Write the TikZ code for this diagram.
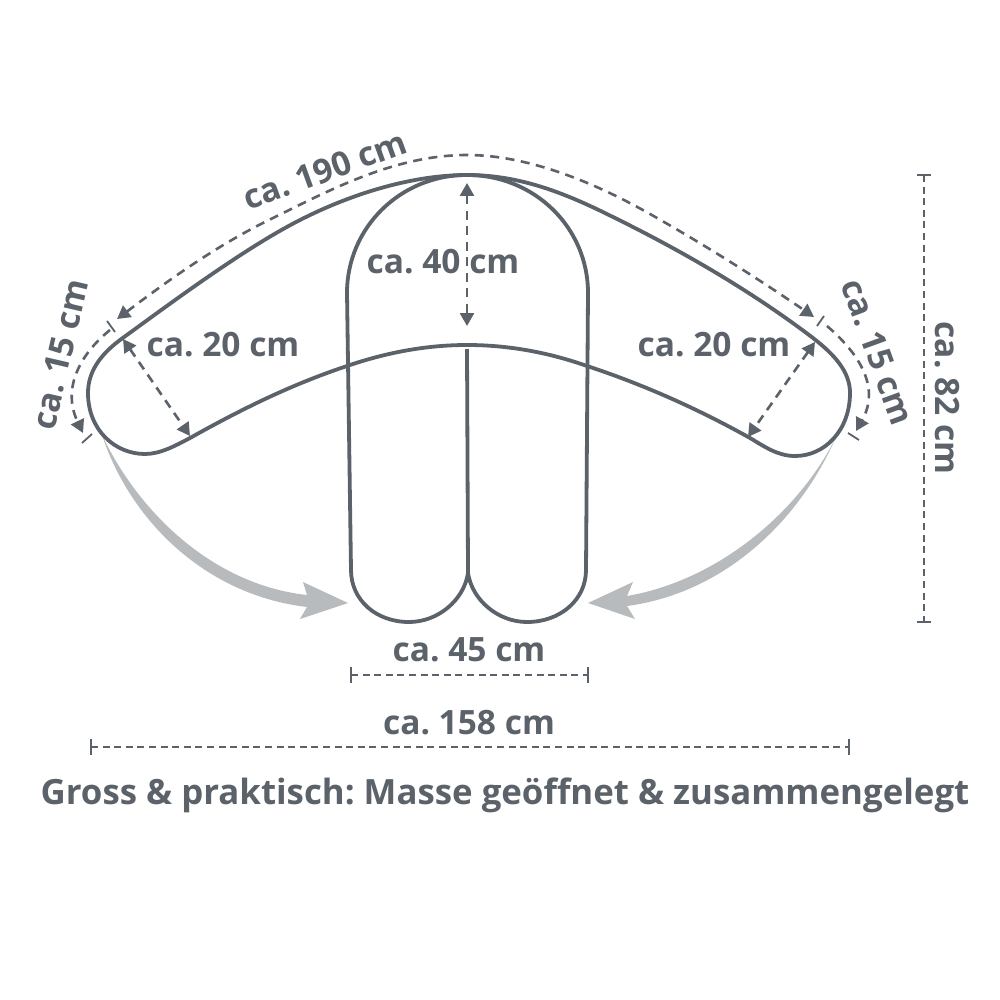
\documentclass[tikz,border=0pt]{standalone}
\usepackage{fontspec}
\setmainfont{Open Sans}
\frenchspacing
\usetikzlibrary{arrows.meta, positioning}
\definecolor{pillow}{HTML}{5C626A}
\definecolor{swoosh}{HTML}{B8BBBD}
\tikzset{
  outline/.style={draw=pillow, line width=3.8pt},
  dim/.style={draw=pillow, line width=2.6pt, dash pattern=on 9pt off 6.5pt},
  dimline/.style={draw=pillow, line width=2.6pt, dash pattern=on 7pt off 4.6pt},
  tick/.style={draw=pillow, line width=1.8pt},
  both/.style={{Triangle[length=13pt,width=14pt]}-{Triangle[length=13pt,width=14pt]}},
  tipend/.style={-{Triangle[length=13pt,width=14pt]}},
  lbl/.style={text=pillow, font=\fontsize{33.5}{33.5}\selectfont\bfseries, inner sep=0pt},
  headline/.style={text=pillow, font=\fontsize{34.8}{34.8}\selectfont\bfseries, inner sep=0pt}
}
\begin{document}
\begin{tikzpicture}[x=1pt, y=-1pt]
      \useasboundingbox[fill=white] (0,0) rectangle (1000,1000);
      % grey arrows
      \fill[swoosh] (102,435) .. controls (140,515) and (215,585) .. (307,595)
            -- (303,582) -- (348,603) -- (300,619) -- (307,607)
            .. controls (205,595) and (130,520) .. cycle;
      \fill[swoosh] (836,437) .. controls (800,510) and (720,580) .. (627,596)
            -- (633,582) -- (588,603) -- (635,619) -- (627,606)
            .. controls (725,593) and (800,520) .. cycle;
      % open pillow
      \draw[outline] (467,175) .. controls (415,175) and (355,192) .. (300,220)
            .. controls (245,248) and (175,300) .. (120,340)
            .. controls (100,355) and (88,372) .. (88,393)
            .. controls (88,430) and (115,454) .. (145,454)
            .. controls (160,454) and (175,446) .. (190,438)
            .. controls (240,410) and (290,385) .. (347,366)
            .. controls (385,353) and (425,345) .. (467,345)
            .. controls (510,345) and (550,353) .. (587,366)
            .. controls (645,385) and (700,410) .. (750,438)
            .. controls (765,447) and (778,456) .. (795,456)
            .. controls (825,456) and (850,430) .. (850,393)
            .. controls (850,372) and (835,355) .. (813,338)
            .. controls (750,290) and (680,250) .. (613,217)
            .. controls (565,193) and (520,175) .. cycle;
      % folded pillow
      \draw[outline] (347,293) .. controls (347,228) and (400,175) .. (467,175)
            .. controls (535,175) and (588,228) .. (588,293)
            -- (586,570) .. controls (586,600) and (560,622) .. (527,622)
            .. controls (498,622) and (472,600) .. (468,573)
            .. controls (464,600) and (438,622) .. (409,622)
            .. controls (376,622) and (351,600) .. (351,570) -- cycle;
      \draw[outline] (467,349) -- (468,573);
      % end points
      \coordinate (topL) at (117,319);
      \coordinate (topR) at (814,317);
      \coordinate (endLa) at (110,330);
      \coordinate (endLb) at (83,433);
      \coordinate (endRa) at (827,326);
      \coordinate (endRb) at (856,431);
      \coordinate (wideLa) at (123,339);
      \coordinate (wideLb) at (190,436);
      \coordinate (wideRa) at (815,342);
      \coordinate (wideRb) at (748,437);
      \coordinate (midT) at (467,183);
      \coordinate (midB) at (467,326);
      \coordinate (foldL) at (351,675);
      \coordinate (foldR) at (588,675);
      \coordinate (openL) at (91,747);
      \coordinate (openR) at (849,747);
      \coordinate (highT) at (924,175);
      \coordinate (highB) at (924,622);
      % measures
      \path[dim, both] (topL) .. controls (165,283) and (215,246) .. (273,218)
            .. controls (330,190) and (395,155) .. (467,155)
            .. controls (525,155) and (590,180) .. (650,214)
            .. controls (705,245) and (760,280) .. (topR);
      \path[dim, tipend] (endLa) .. controls (85,350) and (60,385) .. (endLb);
      \path[dim, tipend] (endRa) .. controls (855,350) and (882,385) .. (endRb);
      \path[dim, both] (wideLa) -- (wideLb);
      \path[dim, both] (wideRa) -- (wideRb);
      \path[dim, both] (midT) -- (midB);
      \path[dimline] (foldL) -- (foldR);
      \path[dimline] (openL) -- (openR);
      \path[dimline] (highT) -- (highB);
      % ticks
      \draw[tick] (107,321) -- (115,332);
      \draw[tick] (824,316) -- (817,326);
      \draw[tick] (92,434) -- (82,443);
      \draw[tick] (848,433) -- (859,440);
      \draw[tick] (351,667) -- (351,683);
      \draw[tick] (588,667) -- (588,683);
      \draw[tick] (91,739) -- (91,755);
      \draw[tick] (849,739) -- (849,755);
      \draw[tick] (917,175) -- (931,175);
      \draw[tick] (917,622) -- (931,622);
      % labels
      \node[lbl, rotate=20] (around) at (325,170) {ca. 190 cm};
      \node[lbl, rotate=77] (endleft) at (60,354) {ca. 15 cm};
      \node[lbl, rotate=-70] (endright) at (878,352) {ca. 15 cm};
      \node[lbl, rotate=-90] (height) at (947,398) {ca. 82 cm};
      \node[lbl] (wideleft) at (223,345) {ca. 20 cm};
      \node[lbl] (wideright) at (714,345) {ca. 20 cm};
      \node[lbl] (middle) at (443,262) {ca. 40 cm};
      \node[lbl] (folded) at (469,650) {ca. 45 cm};
      \node[lbl] (opened) at (469,723) {ca. 158 cm};
      \node[headline] (title) at (505,795) {Gross \& praktisch: Masse geöffnet \& zusammengelegt};
\end{tikzpicture}
\end{document}
